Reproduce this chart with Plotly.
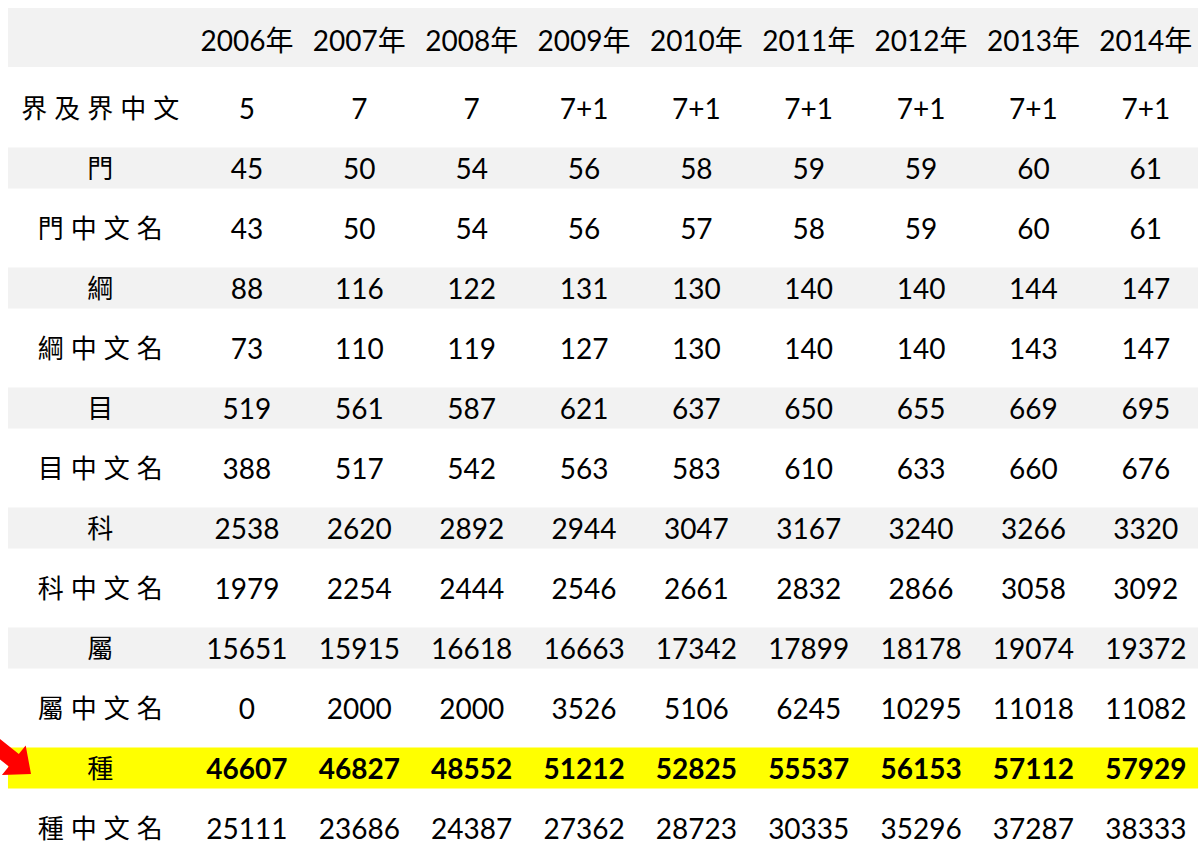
import plotly.graph_objects as go

years = ["2006年", "2007年", "2008年", "2009年", "2010年", "2011年", "2012年", "2013年", "2014年"]
row_labels = ["界及界中文", "門", "門中文名", "綱", "綱中文名", "目", "目中文名",
              "科", "科中文名", "屬", "屬中文名", "種", "種中文名"]

v_jie = ["5", "7", "7", "7+1", "7+1", "7+1", "7+1", "7+1", "7+1"]
v_men = [45, 50, 54, 56, 58, 59, 59, 60, 61]
v_men_zh = [43, 50, 54, 56, 57, 58, 59, 60, 61]
v_gang = [88, 116, 122, 131, 130, 140, 140, 144, 147]
v_gang_zh = [73, 110, 119, 127, 130, 140, 140, 143, 147]
v_mu = [519, 561, 587, 621, 637, 650, 655, 669, 695]
v_mu_zh = [388, 517, 542, 563, 583, 610, 633, 660, 676]
v_ke = [2538, 2620, 2892, 2944, 3047, 3167, 3240, 3266, 3320]
v_ke_zh = [1979, 2254, 2444, 2546, 2661, 2832, 2866, 3058, 3092]
v_shu = [15651, 15915, 16618, 16663, 17342, 17899, 18178, 19074, 19372]
v_shu_zh = [0, 2000, 2000, 3526, 5106, 6245, 10295, 11018, 11082]
v_zhong = [46607, 46827, 48552, 51212, 52825, 55537, 56153, 57112, 57929]
v_zhong_zh = [25111, 23686, 24387, 27362, 28723, 30335, 35296, 37287, 38333]

rows = [v_jie, v_men, v_men_zh, v_gang, v_gang_zh, v_mu, v_mu_zh,
        v_ke, v_ke_zh, v_shu, v_shu_zh, v_zhong, v_zhong_zh]
highlight_row = "種"

W, H = 1203, 843
NUM_FONT = "Lato, 'Noto Sans CJK TC', sans-serif"
CJK_FONT = "'Noto Sans CJK TC', sans-serif"
FS = 28

year_x = list(range(1, len(years) + 1))
label_x = -0.275
text_dy = 0.065
header_y = -0.13 + text_dy
row_y = list(range(1, len(row_labels) + 1))
text_y = [y + text_dy for y in row_y]

X_RANGE = [-1.198, 9.509]
Y_RANGE = [13.25, -0.8]
x_left, x_right = -1.127, 9.465

fig = go.Figure()
shapes = []
# header band
shapes.append(dict(type="rect", xref="x", yref="y", x0=x_left, x1=x_right,
                   y0=-0.667, y1=0.317, fillcolor="#f2f2f2", line_width=0, layer="below"))
for lab, y in zip(row_labels, row_y):
    if lab == highlight_row:
        col = "#ffff00"
    elif y % 2 == 0:
        col = "#f2f2f2"
    else:
        continue
    shapes.append(dict(type="rect", xref="x", yref="y", x0=x_left, x1=x_right,
                       y0=y - 0.342, y1=y + 0.342, fillcolor=col, line_width=0, layer="below"))

# red block arrow pointing at the highlighted row (drawn in pixel space -> paper)
def px(x, y):
    return x / W, 1 - y / H

arrow_px = [(31, 774), (1.9, 775.1), (8.8, 766.5), (-38, 729), (-28, 716.6),
            (18.8, 754.1), (25.7, 745.5)]
pts = [px(a, b) for a, b in arrow_px]
path = "M " + " L ".join(f"{a:.5f},{b:.5f}" for a, b in pts) + " Z"
shapes.append(dict(type="path", xref="paper", yref="paper", path=path,
                   fillcolor="#ff0000", line=dict(width=0), layer="above"))

# header
fig.add_trace(go.Scatter(x=year_x, y=[header_y] * len(years), text=years, mode="text",
                         textposition="middle center",
                         textfont=dict(family=NUM_FONT, size=FS, color="#000000"),
                         hoverinfo="skip", showlegend=False))
# row labels
fig.add_trace(go.Scatter(x=[label_x] * len(row_labels), y=text_y,
                         text=[f'<span style="letter-spacing:7px">{l}</span>' for l in row_labels],
                         mode="text", textposition="middle center",
                         textfont=dict(family=CJK_FONT, size=26, color="#000000"),
                         hoverinfo="skip", showlegend=False))
# values
for lab, y, vals in zip(row_labels, text_y, rows):
    fig.add_trace(go.Scatter(x=year_x, y=[y] * len(vals), text=[str(v) for v in vals],
                             mode="text", textposition="middle center",
                             textfont=dict(family=NUM_FONT, size=FS, color="#000000",
                                           weight="bold" if lab == highlight_row else "normal"),
                             hoverinfo="skip", showlegend=False))

fig.update_layout(
    width=W, height=H, margin=dict(l=0, r=0, t=0, b=0),
    paper_bgcolor="#ffffff", plot_bgcolor="#ffffff", shapes=shapes,
    xaxis=dict(range=X_RANGE, visible=False, fixedrange=True),
    yaxis=dict(range=Y_RANGE, visible=False, fixedrange=True),
)
fig.write_html("out.html", config={"displayModeBar": False},
               post_script="document.body.style.margin='0';document.body.style.overflow='hidden';")
